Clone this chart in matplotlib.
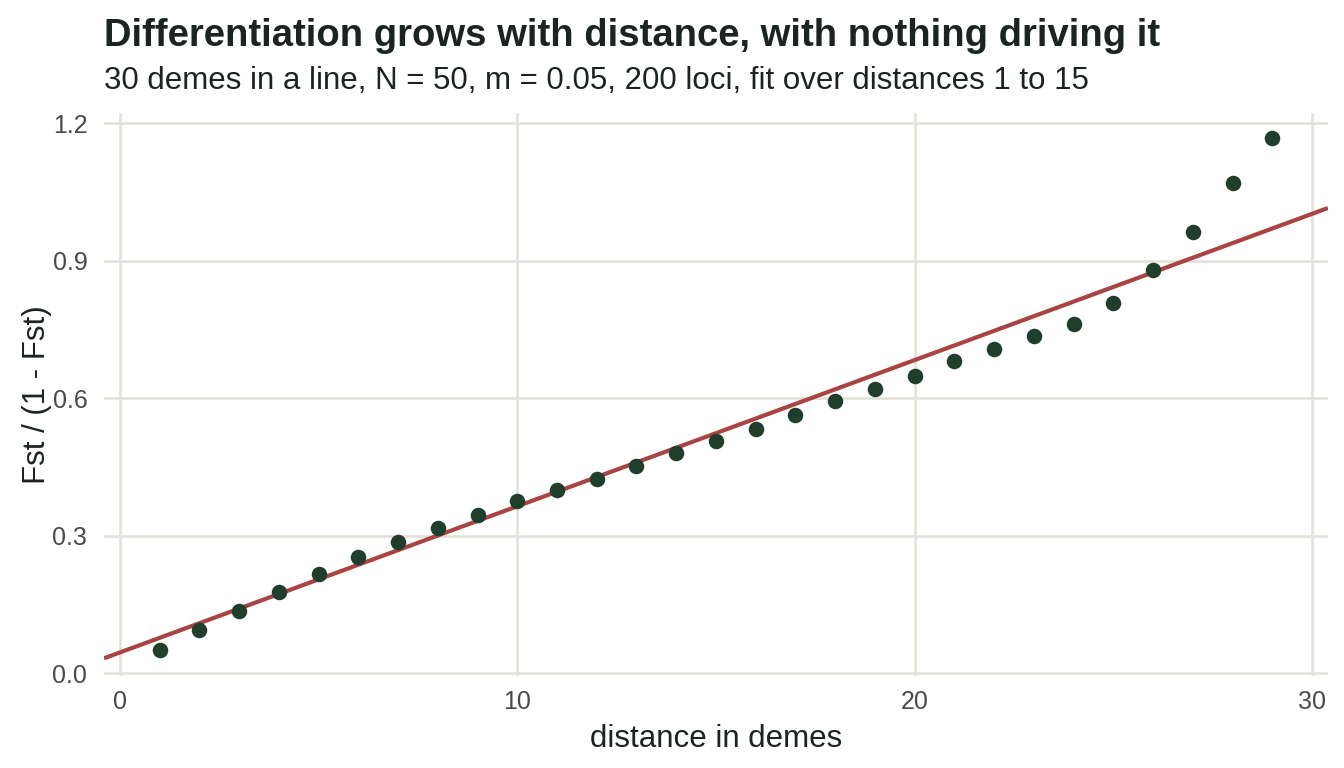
import matplotlib
matplotlib.use("Agg")
import matplotlib.pyplot as plt
import numpy as np

# distance between demes and Fst/(1-Fst)
distance = [1, 2, 3, 4, 5, 6, 7, 8, 9, 10, 11, 12, 13, 14, 15,
            16, 17, 18, 19, 20, 21, 22, 23, 24, 25, 26, 27, 28, 29]
fst_ratio = [0.050, 0.094, 0.135, 0.177, 0.216, 0.253, 0.286, 0.316, 0.345, 0.375,
             0.399, 0.423, 0.452, 0.480, 0.506, 0.532, 0.563, 0.593, 0.620, 0.648,
             0.681, 0.707, 0.735, 0.762, 0.807, 0.879, 0.962, 1.069, 1.167]
fit_max_distance = 15

x_ticks = [0, 10, 20, 30]
y_ticks = [0.0, 0.3, 0.6, 0.9, 1.2]

title = "Differentiation grows with distance, with nothing driving it"
subtitle = "30 demes in a line, N = 50, m = 0.05, 200 loci, fit over distances 1 to 15"

plt.rcParams['font.family'] = ['Liberation Sans', 'DejaVu Sans']

POINT_COL = "#1f3f2c"
LINE_COL = "#a84442"
GRID_COL = "#e2e2d8"
TEXT_COL = "#1b2420"
TICK_COL = "#4a4a4a"

x = np.array(distance)
y = np.array(fst_ratio)

# linear fit over the short-distance range only
mask = x <= fit_max_distance
slope, intercept = np.polyfit(x[mask], y[mask], 1)

fig = plt.figure(figsize=(13.44, 7.68), dpi=100)
ax = fig.add_axes([0.0774, 0.1198, 0.9106, 0.733])

xlim = (-0.4, 30.4)
ax.set_xlim(*xlim)
ax.set_ylim(-0.006, 1.222)

xs = np.array(xlim)
ax.plot(xs, intercept + slope * xs, color=LINE_COL, lw=3.0, zorder=2,
        solid_capstyle='butt')
ax.scatter(x, y, s=125, color=POINT_COL, zorder=3, linewidths=0)

ax.set_xticks(x_ticks)
ax.set_yticks(y_ticks)
ax.set_yticklabels([f"{v:.1f}" for v in y_ticks])
ax.grid(True, color=GRID_COL, lw=1.9, zorder=0)
ax.set_axisbelow(True)
for s in ax.spines.values():
    s.set_visible(False)
ax.tick_params(length=0, labelsize=18, labelcolor=TICK_COL)
ax.tick_params(axis='y', pad=12)
ax.tick_params(axis='x', pad=10)

ax.set_xlabel("distance in demes", fontsize=22.5, color=TEXT_COL, labelpad=7)
ax.set_ylabel("Fst / (1 - Fst)", fontsize=22.5, color=TEXT_COL, labelpad=0)

fig.text(0.0774, 0.940, title, fontsize=27.5, fontweight='bold', color=TEXT_COL,
         ha='left', va='baseline')
fig.text(0.0774, 0.884, subtitle, fontsize=22.5, color=TEXT_COL,
         ha='left', va='baseline')

fig.savefig("out.png", dpi=100)
